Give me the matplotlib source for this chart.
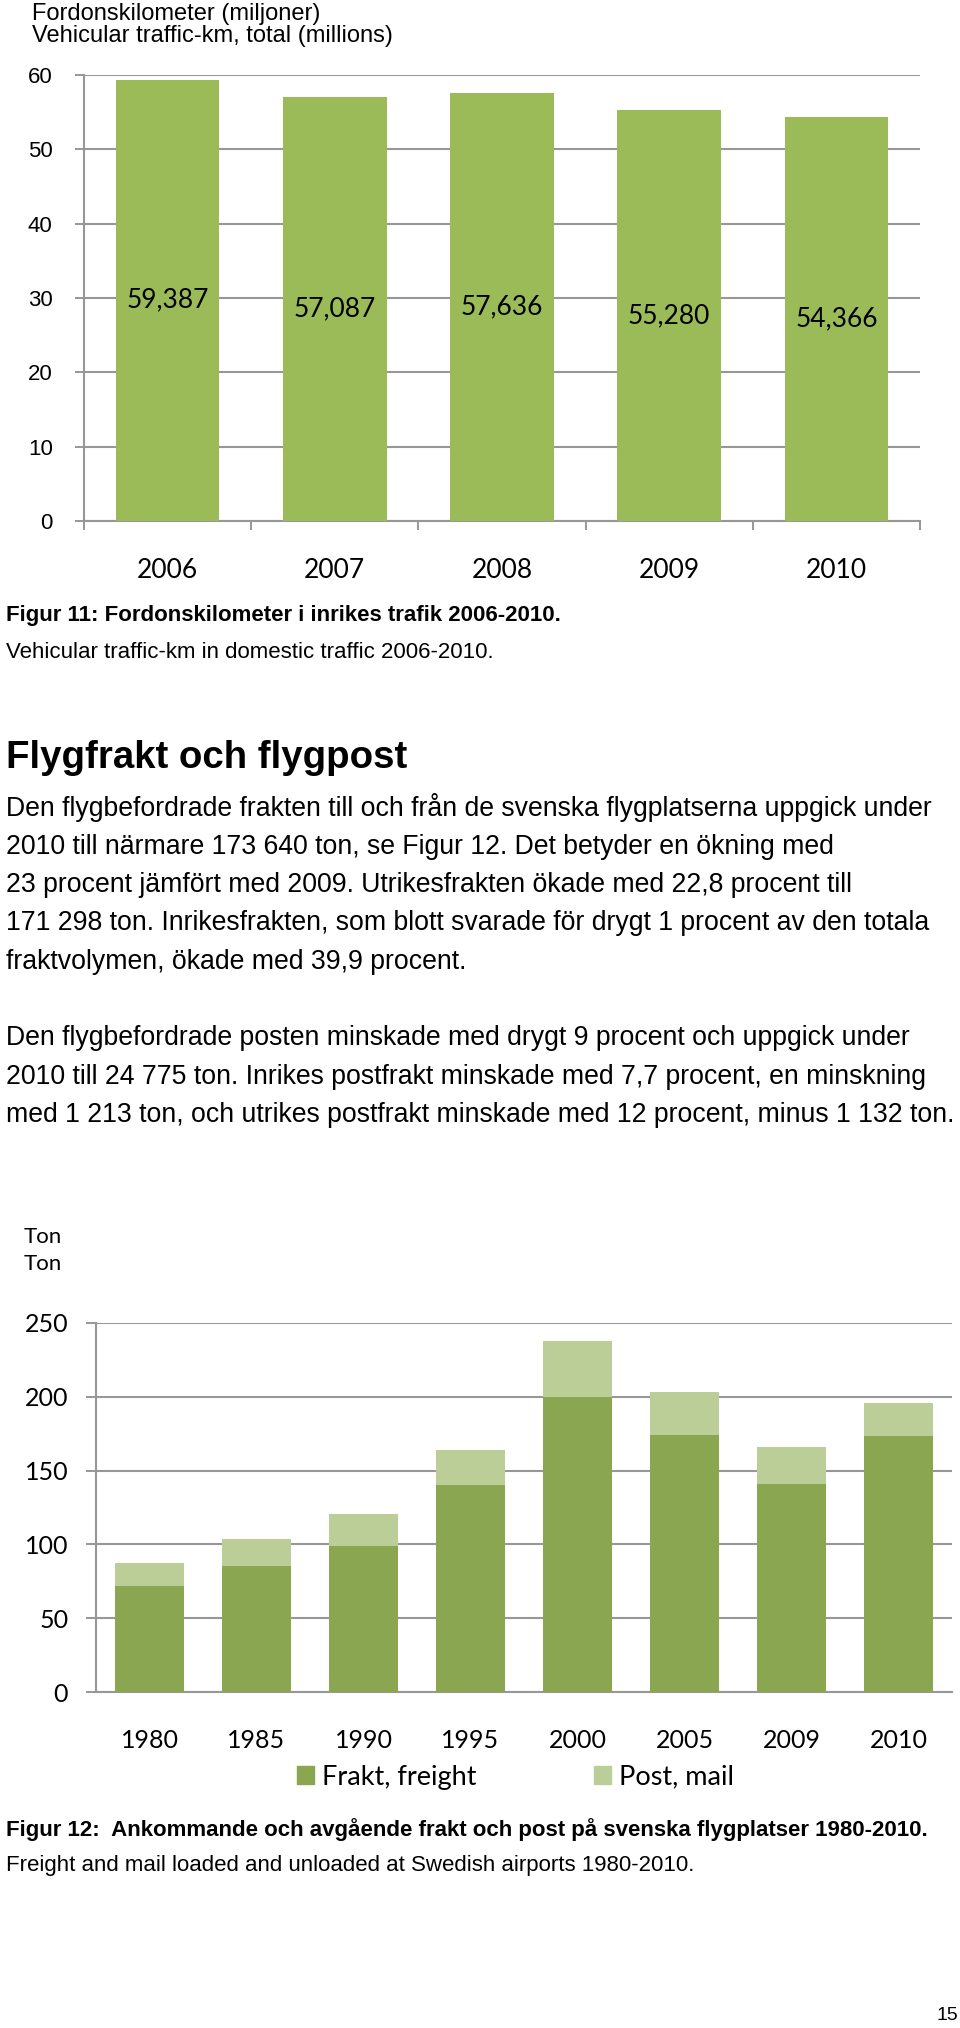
import matplotlib
matplotlib.use("Agg")
import matplotlib.pyplot as plt
from matplotlib.patches import Patch
from matplotlib.ticker import FixedLocator

# ---------------- data ----------------
years1 = ['2006', '2007', '2008', '2009', '2010']
traffic_km = [59.387, 57.087, 57.636, 55.280, 54.366]
traffic_labels = ['59,387', '57,087', '57,636', '55,280', '54,366']
y1_ticks = [0, 10, 20, 30, 40, 50, 60]

years2 = ['1980', '1985', '1990', '1995', '2000', '2005', '2009', '2010']
frakt = [71.7, 85.1, 99.1, 140.0, 200.2, 174.2, 141.0, 173.4]
post = [15.6, 18.7, 21.5, 24.0, 37.8, 29.0, 25.3, 22.6]
y2_ticks = [0, 50, 100, 150, 200, 250]

header1 = ["Fordonskilometer (miljoner)", "Vehicular traffic-km, total (millions)"]
caption1 = ["Figur 11: Fordonskilometer i inrikes trafik 2006-2010.",
            "Vehicular traffic-km in domestic traffic 2006-2010."]
heading = "Flygfrakt och flygpost"
para1 = ["Den flygbefordrade frakten till och från de svenska flygplatserna uppgick under",
         "2010 till närmare 173 640 ton, se Figur 12. Det betyder en ökning med",
         "23 procent jämfört med 2009. Utrikesfrakten ökade med 22,8 procent till",
         "171 298 ton. Inrikesfrakten, som blott svarade för drygt 1 procent av den totala",
         "fraktvolymen, ökade med 39,9 procent."]
para2 = ["Den flygbefordrade posten minskade med drygt 9 procent och uppgick under",
         "2010 till 24 775 ton. Inrikes postfrakt minskade med 7,7 procent, en minskning",
         "med 1 213 ton, och utrikes postfrakt minskade med 12 procent, minus 1 132 ton."]
header2 = ["Ton", "Ton"]
legend_labels = ["Frakt, freight", "Post, mail"]
caption2 = ["Figur 12:  Ankommande och avgående frakt och post på svenska flygplatser 1980-2010.",
            "Freight and mail loaded and unloaded at Swedish airports 1980-2010."]
page_no = "15"

# ---------------- style ----------------
W, H = 960, 2028
DPI = 100
ARIAL = ['Liberation Sans', 'DejaVu Sans']
CALIBRI = ['Lato', 'DejaVu Sans']
GRID = '#979797'
GREEN1 = '#9BBB59'
FRAKT_C = '#8AA650'
POST_C = '#BBCE98'

fig = plt.figure(figsize=(W / DPI, H / DPI), dpi=DPI)
fig.patch.set_facecolor('white')


def fx(px):
    return px / W


def fy(py):
    return 1 - py / H


def ftext(x, y, s, size, weight='normal', family=ARIAL, ha='left'):
    fig.text(fx(x), fy(y), s, fontsize=size, fontweight=weight,
             family=family, ha=ha, va='center', color='black')


# ---------------- chart 1 ----------------
ax1 = fig.add_axes([fx(84), fy(521), fx(920 - 84), (521 - 75) / H])
x1 = list(range(len(years1)))
ax1.bar(x1, traffic_km, width=0.62, color=GREEN1, zorder=3)
for xi, v, lab in zip(x1, traffic_km, traffic_labels):
    ax1.text(xi, v / 2, lab, ha='center', va='center', fontsize=19,
             family=CALIBRI, zorder=4)
ax1.set_xlim(-0.5, len(years1) - 0.5)
ax1.set_ylim(0, 60)
ax1.set_yticks(y1_ticks)
ax1.set_yticklabels([str(t) for t in y1_ticks], family=ARIAL, fontsize=16)
ax1.set_xticks(x1)
ax1.set_xticklabels(years1, family=CALIBRI, fontsize=19)
ax1.xaxis.set_minor_locator(FixedLocator([i - 0.5 for i in range(len(years1) + 1)]))
ax1.tick_params(axis='x', which='major', length=0, pad=27)
ax1.tick_params(axis='x', which='minor', length=6.5, width=1.4, color=GRID, direction='out')
ax1.tick_params(axis='y', length=6.5, width=1.4, color=GRID, pad=16)
ax1.yaxis.grid(True, color=GRID, linewidth=1.5, zorder=0)
for s in ['top', 'right']:
    ax1.spines[s].set_visible(False)
for s in ['left', 'bottom']:
    ax1.spines[s].set_color(GRID)
    ax1.spines[s].set_linewidth(1.5)

ftext(32, 14, header1[0], 17)
ftext(32, 36, header1[1], 17)

# ---------------- text ----------------
ftext(6, 616, caption1[0], 16, weight='bold')
ftext(6, 652, caption1[1], 16)
ftext(6, 758, heading, 27.6, weight='bold')
for i, line in enumerate(para1):
    ftext(6, 808 + i * 38.5, line, 19.2)
for i, line in enumerate(para2):
    ftext(6, 1038 + i * 38.5, line, 19.2)

# ---------------- chart 2 ----------------
ax2 = fig.add_axes([fx(96), fy(1692), fx(952 - 96), (1692 - 1323) / H])
x2 = list(range(len(years2)))
ax2.bar(x2, frakt, width=0.65, color=FRAKT_C, zorder=3, label=legend_labels[0])
ax2.bar(x2, post, width=0.65, bottom=frakt, color=POST_C, zorder=3, label=legend_labels[1])
ax2.set_xlim(-0.5, len(years2) - 0.5)
ax2.set_ylim(0, 250)
ax2.set_yticks(y2_ticks)
ax2.set_yticklabels([str(t) for t in y2_ticks], family=CALIBRI, fontsize=18)
ax2.set_xticks(x2)
ax2.set_xticklabels(years2, family=CALIBRI, fontsize=18)
ax2.tick_params(axis='x', length=0, pad=27)
ax2.tick_params(axis='y', length=7, width=1.4, color=GRID, pad=13)
ax2.yaxis.grid(True, color=GRID, linewidth=1.5, zorder=0)
for s in ['top', 'right']:
    ax2.spines[s].set_visible(False)
for s in ['left', 'bottom']:
    ax2.spines[s].set_color(GRID)
    ax2.spines[s].set_linewidth(1.5)

handles = [Patch(color=FRAKT_C), Patch(color=POST_C)]
fig.legend(handles, legend_labels, loc='center left',
           bbox_to_anchor=(fx(297), fy(1777)), ncol=2, frameon=False,
           prop={'family': CALIBRI, 'size': 19.5}, handlelength=0.62, handleheight=0.62,
           handletextpad=0.3, columnspacing=4.35, borderpad=0, borderaxespad=0)

ftext(24, 1237, header2[0], 16, family=CALIBRI)
ftext(24, 1264, header2[1], 16, family=CALIBRI)

ftext(6, 1830, caption2[0], 16, weight='bold')
ftext(6, 1865, caption2[1], 16)
ftext(958, 2015, page_no, 14, ha='right')

fig.savefig('out.png', dpi=DPI, facecolor='white')
